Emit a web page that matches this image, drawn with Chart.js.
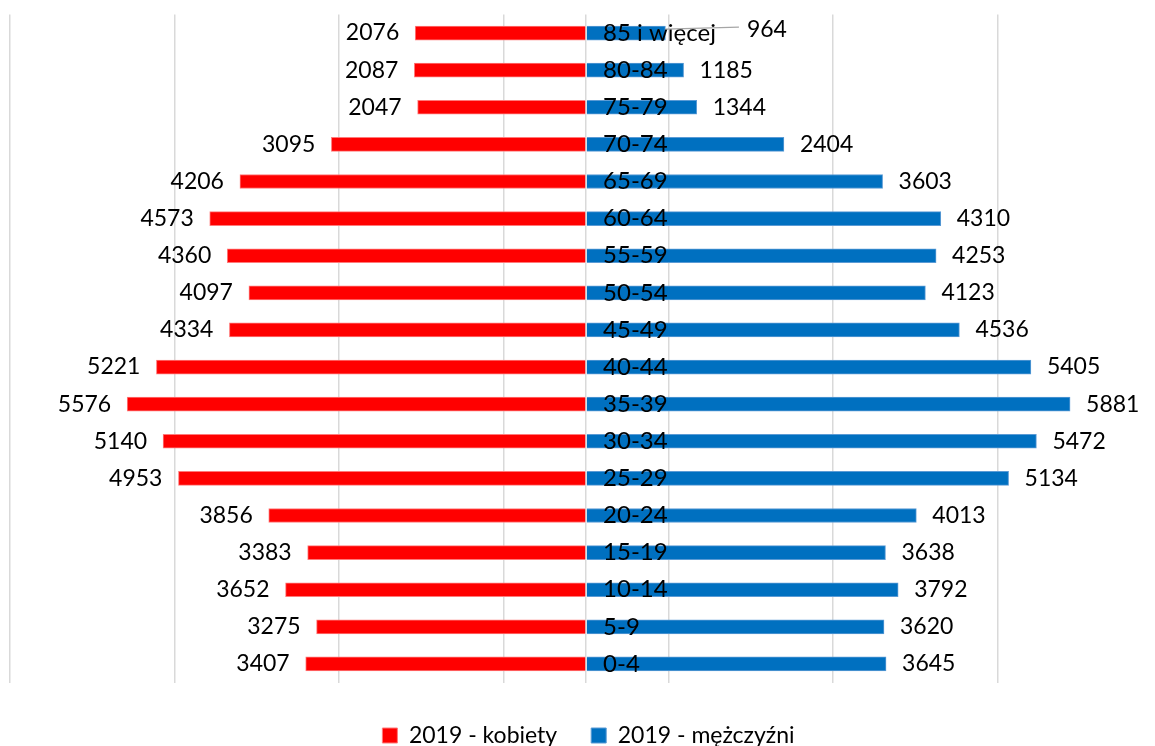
<!DOCTYPE html>
<html lang="pl">
<head>
    <meta charset="UTF-8" />
    <title>Piramida wieku 2019</title>
    <script src="https://cdn.jsdelivr.net/npm/chart.js"></script>
    <style>
        * { margin: 0; padding: 0; box-sizing: border-box; }
        body { background: #ffffff; width: 1155px; height: 746px; overflow: hidden; }
        .chart-box { position: relative; width: 1155px; height: 746px; }
    </style>
</head>
<body>
    <div class="chart-box"><canvas id="pyramid"></canvas></div>

    <script>
        // age groups, top to bottom
        const ageGroups = ['85 i więcej', '80-84', '75-79', '70-74', '65-69', '60-64', '55-59', '50-54', '45-49',
            '40-44', '35-39', '30-34', '25-29', '20-24', '15-19', '10-14', '5-9', '0-4'];
        const women = [2076, 2087, 2047, 3095, 4206, 4573, 4360, 4097, 4334, 5221, 5576, 5140, 4953, 3856, 3383, 3652, 3275, 3407];
        const men = [964, 1185, 1344, 2404, 3603, 4310, 4253, 4123, 4536, 5405, 5881, 5472, 5134, 4013, 3638, 3792, 3620, 3645];
        const gridTicks = [-7000, -5000, -3000, -1000, 0, 1000, 3000, 5000];

        const FONT = 'Lato, "Liberation Sans", sans-serif';
        const NUM_SIZE = 23;
        const TEXT_SIZE = 24;

        // draws age labels on the centre line and the value labels at the bar ends
        const labelsPlugin = {
            id: 'pyramidLabels',
            afterLayout(chart) {
                // legend sits a little right of centre in the original
                chart.legend.left += 6;
                chart.legend.right += 6;
            },
            afterDatasetsDraw(chart) {
                const ctx = chart.ctx;
                const x0 = chart.scales.x.getPixelForValue(0);
                ctx.save();
                ctx.fillStyle = '#000';
                ctx.textBaseline = 'middle';

                const catEnds = [];
                ctx.font = TEXT_SIZE + 'px ' + FONT;
                ageGroups.forEach((g, i) => {
                    const y = chart.scales.y.getPixelForValue(i);
                    ctx.textAlign = 'left';
                    ctx.fillText(g, x0 + 17, y);
                    catEnds.push(x0 + 17 + ctx.measureText(g).width);
                });

                ctx.font = NUM_SIZE + 'px ' + FONT;
                chart.getDatasetMeta(0).data.forEach((bar, i) => {
                    ctx.textAlign = 'right';
                    ctx.fillText(String(women[i]), bar.x - 16, bar.y);
                });

                chart.getDatasetMeta(1).data.forEach((bar, i) => {
                    ctx.textAlign = 'left';
                    let lx = bar.x + 16;
                    if (lx < catEnds[i] + 8) {
                        // label would sit on the age text: push it out with a leader line
                        lx = catEnds[i] + 31;
                        ctx.strokeStyle = '#a6a6a6';
                        ctx.lineWidth = 1.2;
                        ctx.beginPath();
                        ctx.moveTo(bar.x, bar.y - 4);
                        ctx.lineTo(lx - 8, bar.y - 6);
                        ctx.stroke();
                        ctx.fillText(String(men[i]), lx, bar.y - 3);
                    } else {
                        ctx.fillText(String(men[i]), lx, bar.y);
                    }
                });
                ctx.restore();
            }
        };

        new Chart(document.getElementById('pyramid'), {
            type: 'bar',
            data: {
                labels: ageGroups,
                datasets: [
                    {
                        label: '2019 - kobiety',
                        data: women.map(v => -v),
                        backgroundColor: '#ff0000',
                        borderColor: '#ff7a7a',
                        borderWidth: 1,
                        barThickness: 14
                    },
                    {
                        label: '2019 - mężczyźni',
                        data: men,
                        backgroundColor: '#0070c0',
                        borderColor: '#5b9bd5',
                        borderWidth: 1,
                        barThickness: 14
                    }
                ]
            },
            options: {
                indexAxis: 'y',
                responsive: true,
                maintainAspectRatio: false,
                animation: false,
                layout: { padding: { left: 10, right: 0, top: 14.5, bottom: -11 } },
                plugins: {
                    tooltip: { enabled: false },
                    legend: {
                        position: 'bottom',
                        labels: {
                            boxWidth: 15,
                            boxHeight: 15,
                            padding: 34,
                            color: '#000',
                            font: { family: FONT, size: NUM_SIZE }
                        }
                    }
                },
                scales: {
                    x: {
                        stacked: true,
                        min: -7000,
                        max: 6913,
                        afterBuildTicks: scale => { scale.ticks = gridTicks.map(v => ({ value: v })); },
                        afterFit: scale => { scale.height = 7.5; },
                        ticks: { display: false },
                        grid: { color: '#d9d9d9', lineWidth: 1.5, drawTicks: false },
                        border: { display: false }
                    },
                    y: {
                        stacked: true,
                        display: false
                    }
                }
            },
            plugins: [labelsPlugin]
        });
    </script>
</body>
</html>
